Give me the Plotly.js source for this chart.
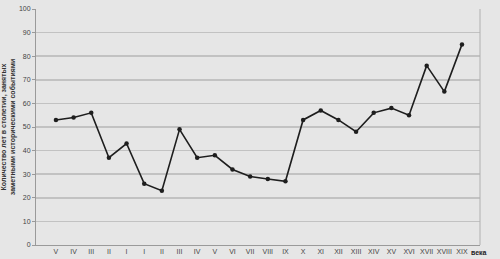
<!DOCTYPE html>
<html><head><meta charset="utf-8">
<script src="https://cdn.plot.ly/plotly-3.0.1.min.js"></script>
<style>html,body{margin:0;padding:0;background:#e6e6e6}</style>
</head><body>
<div id="chart" style="width:500px;height:259px"></div>
<script>
const categories = ["V ","IV ","III ","II ","I ","I","II","III","IV","V","VI","VII","VIII","IX","X","XI","XII","XIII","XIV","XV","XVI","XVII","XVIII","XIX"];
const values = [53,54,56,37,43,26,23,49,37,38,32,29,28,27,53,57,53,48,56,58,55,76,65,85];
const yTickVals = [0,10,20,30,40,50,60,70,80,90,100];
const yTitle = "Количество лет в столетии, занятых<br>заметными историческими событиями";
const xSuffix = "века";

const trace = {
  x: categories.map((c,i)=>i),
  y: values,
  type: "scatter",
  mode: "lines+markers",
  line: {color: "#1e1e1e", width: 1.6},
  marker: {color: "#1e1e1e", size: 4.5},
  hoverinfo: "skip"
};
const layout = {
  width: 500, height: 259,
  margin: {l: 36, r: 20, t: 9, b: 14},
  paper_bgcolor: "#e6e6e6",
  plot_bgcolor: "#e6e6e6",
  showlegend: false,
  font: {family: "Arial, Liberation Sans, sans-serif", color: "#333", size: 7},
  xaxis: {
    range: [-1.13, 24.02],
    tickmode: "array",
    tickvals: categories.map((c,i)=>i),
    ticktext: categories.map(c=>c.trim()),
    showgrid: false, zeroline: false,
    showline: true, linecolor: "#9a9a9a", linewidth: 1,
    ticks: "", ticklen: 0,
    tickfont: {size: 7, color: "#444"},
    fixedrange: true
  },
  yaxis: {
    range: [0, 100],
    tickmode: "array",
    tickvals: yTickVals,
    showgrid: true, gridcolor: "#c2c2c2", gridwidth: 1.5,
    zeroline: false,
    showline: true, linecolor: "#9a9a9a", linewidth: 1,
    ticks: "outside", ticklen: 3, tickcolor: "#9a9a9a",
    tickfont: {size: 7, color: "#444"},
    title: {text: yTitle, font: {size: 7, color: "#333", family: "Arial, Liberation Sans, sans-serif", weight: "bold"}, standoff: 4},
    fixedrange: true
  },
  shapes: [{type: "line", xref: "paper", yref: "paper", x0: 1, x1: 1, y0: 0, y1: 1, line: {color: "#b0b0b0", width: 1}}],
  annotations: [{
    text: "<b>" + xSuffix + "</b>", xref: "paper", yref: "paper", x: 0.997, y: 0, yshift: -7,
    xanchor: "center", yanchor: "middle", showarrow: false, font: {size: 7, color: "#222"}
  }]
};
Plotly.newPlot("chart", [trace], layout, {staticPlot: true, displayModeBar: false});
</script>
</body></html>
